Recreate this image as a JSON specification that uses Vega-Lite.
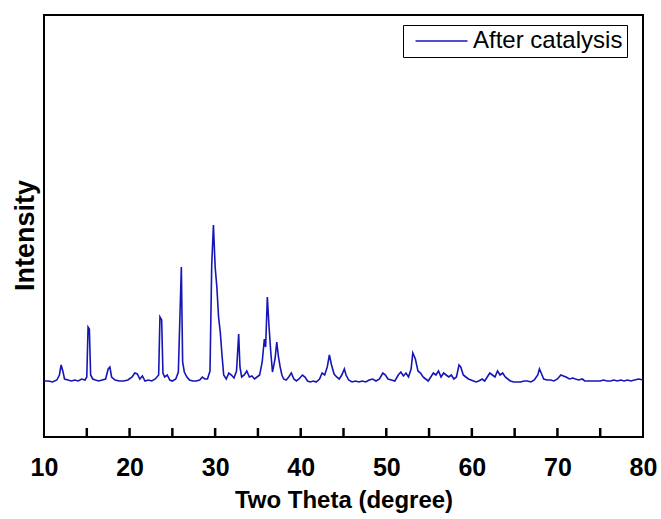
{
  "$schema": "https://vega.github.io/schema/vega-lite/v6.json",
  "width": 599,
  "height": 422,
  "autosize": {"type": "none"},
  "padding": {"left": 44, "top": 15, "right": 18, "bottom": 82},
  "background": "white",
  "config": {
    "view": {"stroke": "black", "strokeWidth": 2},
    "font": "Liberation Sans"
  },
  "layer": [
    {
      "data": {"values": [
        {"t":10.0,"i":56},{"t":10.5,"i":56},{"t":11.0,"i":55},{"t":11.5,"i":57},{"t":11.8,"i":62},{"t":12.0,"i":72},{"t":12.2,"i":66},{"t":12.4,"i":58},{"t":12.8,"i":57},{"t":13.2,"i":56},{"t":13.6,"i":57},{"t":14.0,"i":56},{"t":14.4,"i":58},{"t":14.8,"i":57},{"t":15.0,"i":60},{"t":15.15,"i":110},{"t":15.3,"i":108},{"t":15.45,"i":62},{"t":15.7,"i":58},{"t":16.0,"i":57},{"t":16.4,"i":56},{"t":16.8,"i":57},{"t":17.2,"i":58},{"t":17.5,"i":68},{"t":17.7,"i":70},{"t":17.9,"i":60},{"t":18.3,"i":57},{"t":18.8,"i":56},{"t":19.3,"i":56},{"t":19.8,"i":57},{"t":20.3,"i":60},{"t":20.6,"i":64},{"t":20.9,"i":63},{"t":21.2,"i":58},{"t":21.5,"i":61},{"t":21.8,"i":56},{"t":22.2,"i":57},{"t":22.6,"i":56},{"t":23.0,"i":58},{"t":23.4,"i":62},{"t":23.55,"i":120},{"t":23.75,"i":117},{"t":23.9,"i":64},{"t":24.1,"i":60},{"t":24.4,"i":62},{"t":24.7,"i":57},{"t":25.0,"i":56},{"t":25.4,"i":58},{"t":25.7,"i":65},{"t":25.9,"i":125},{"t":26.05,"i":170},{"t":26.2,"i":75},{"t":26.4,"i":65},{"t":26.7,"i":60},{"t":27.0,"i":57},{"t":27.4,"i":56},{"t":27.8,"i":56},{"t":28.2,"i":57},{"t":28.5,"i":60},{"t":28.8,"i":58},{"t":29.1,"i":58},{"t":29.4,"i":66},{"t":29.6,"i":172},{"t":29.8,"i":212},{"t":30.0,"i":170},{"t":30.2,"i":150},{"t":30.4,"i":120},{"t":30.6,"i":105},{"t":30.8,"i":82},{"t":31.0,"i":62},{"t":31.3,"i":58},{"t":31.6,"i":64},{"t":31.9,"i":62},{"t":32.2,"i":59},{"t":32.5,"i":66},{"t":32.75,"i":103},{"t":32.9,"i":70},{"t":33.1,"i":60},{"t":33.4,"i":62},{"t":33.7,"i":66},{"t":34.0,"i":60},{"t":34.3,"i":61},{"t":34.6,"i":58},{"t":34.9,"i":60},{"t":35.2,"i":62},{"t":35.5,"i":75},{"t":35.75,"i":98},{"t":35.9,"i":90},{"t":36.1,"i":140},{"t":36.3,"i":110},{"t":36.5,"i":85},{"t":36.7,"i":65},{"t":37.0,"i":78},{"t":37.2,"i":95},{"t":37.4,"i":80},{"t":37.6,"i":70},{"t":37.8,"i":62},{"t":38.0,"i":58},{"t":38.3,"i":57},{"t":38.6,"i":60},{"t":38.9,"i":64},{"t":39.2,"i":58},{"t":39.5,"i":56},{"t":39.8,"i":58},{"t":40.2,"i":62},{"t":40.5,"i":60},{"t":40.8,"i":56},{"t":41.1,"i":55},{"t":41.5,"i":56},{"t":41.8,"i":55},{"t":42.2,"i":58},{"t":42.5,"i":64},{"t":42.8,"i":62},{"t":43.1,"i":70},{"t":43.35,"i":82},{"t":43.6,"i":72},{"t":43.9,"i":63},{"t":44.2,"i":60},{"t":44.5,"i":58},{"t":44.8,"i":62},{"t":45.1,"i":68},{"t":45.3,"i":62},{"t":45.6,"i":57},{"t":46.0,"i":55},{"t":46.4,"i":56},{"t":46.8,"i":55},{"t":47.2,"i":56},{"t":47.6,"i":55},{"t":48.0,"i":57},{"t":48.4,"i":58},{"t":48.8,"i":56},{"t":49.2,"i":58},{"t":49.6,"i":64},{"t":49.9,"i":62},{"t":50.2,"i":58},{"t":50.6,"i":57},{"t":51.0,"i":56},{"t":51.4,"i":62},{"t":51.7,"i":65},{"t":52.0,"i":61},{"t":52.3,"i":64},{"t":52.6,"i":60},{"t":52.9,"i":68},{"t":53.1,"i":84},{"t":53.4,"i":78},{"t":53.7,"i":66},{"t":54.0,"i":64},{"t":54.3,"i":60},{"t":54.6,"i":58},{"t":54.9,"i":56},{"t":55.2,"i":60},{"t":55.5,"i":64},{"t":55.8,"i":62},{"t":56.1,"i":66},{"t":56.4,"i":60},{"t":56.7,"i":64},{"t":57.0,"i":62},{"t":57.3,"i":60},{"t":57.6,"i":62},{"t":57.9,"i":58},{"t":58.2,"i":60},{"t":58.5,"i":72},{"t":58.7,"i":70},{"t":59.0,"i":62},{"t":59.3,"i":60},{"t":59.6,"i":58},{"t":59.9,"i":57},{"t":60.2,"i":56},{"t":60.5,"i":55},{"t":60.8,"i":56},{"t":61.2,"i":58},{"t":61.5,"i":56},{"t":61.8,"i":60},{"t":62.1,"i":64},{"t":62.4,"i":62},{"t":62.7,"i":60},{"t":63.0,"i":66},{"t":63.3,"i":62},{"t":63.6,"i":64},{"t":63.9,"i":60},{"t":64.2,"i":58},{"t":64.5,"i":56},{"t":64.9,"i":55},{"t":65.3,"i":55},{"t":65.7,"i":55},{"t":66.1,"i":56},{"t":66.5,"i":56},{"t":66.9,"i":55},{"t":67.3,"i":57},{"t":67.7,"i":62},{"t":67.9,"i":68},{"t":68.1,"i":64},{"t":68.4,"i":58},{"t":68.8,"i":57},{"t":69.2,"i":57},{"t":69.6,"i":56},{"t":70.0,"i":58},{"t":70.4,"i":62},{"t":70.7,"i":61},{"t":71.0,"i":60},{"t":71.4,"i":58},{"t":71.8,"i":59},{"t":72.1,"i":58},{"t":72.5,"i":57},{"t":72.9,"i":58},{"t":73.2,"i":56},{"t":73.6,"i":56},{"t":74.0,"i":56},{"t":74.5,"i":56},{"t":75.0,"i":56},{"t":75.4,"i":57},{"t":75.8,"i":56},{"t":76.2,"i":56},{"t":76.6,"i":57},{"t":77.0,"i":56},{"t":77.4,"i":57},{"t":77.8,"i":56},{"t":78.2,"i":57},{"t":78.6,"i":56},{"t":79.0,"i":57},{"t":79.5,"i":58},{"t":80.0,"i":57}
      ]},
      "mark": {"type": "line", "strokeWidth": 1.6, "interpolate": "linear"},
      "encoding": {
        "x": {
          "field": "t", "type": "quantitative",
          "scale": {"domain": [10, 80], "nice": false, "zero": false},
          "axis": {
            "title": "Two Theta (degree)",
            "titleFont": "Liberation Sans", "titleFontSize": 24, "titleFontWeight": "bold", "titleColor": "black", "titlePadding": 8,
            "values": [10,20,30,40,50,60,70,80],
            "labelFont": "Liberation Sans", "labelFontSize": 25, "labelFontWeight": "bold", "labelColor": "black",
            "labelPadding": 18, "labelFlush": false,
            "ticks": false, "tickSize": 0,
            "domain": false, "grid": false
          }
        },
        "y": {
          "field": "i", "type": "quantitative",
          "scale": {"domain": [0, 422], "nice": false},
          "axis": {
            "title": "Intensity", "titleY": 220,
            "titleFont": "Liberation Sans", "titleFontSize": 27, "titleFontWeight": "bold", "titleColor": "black", "titlePadding": 5,
            "labels": false, "ticks": false, "domain": false, "grid": false
          }
        },
        "color": {
          "datum": "After catalysis",
          "scale": {"range": ["#1616b6"]},
          "legend": {
            "title": null,
            "orient": "none", "legendX": 359, "legendY": 10,
            "symbolType": "M-0.4,0H5.6", "symbolSize": 300, "symbolStrokeWidth": 1.6,
            "labelFont": "Liberation Sans", "labelFontSize": 24, "labelColor": "black", "labelOffset": 42,
            "strokeColor": "black", "padding": 4, "fillColor": "white"
          }
        }
      }
    },
    {
      "data": {"values": [{"t":15},{"t":20},{"t":25},{"t":30},{"t":35},{"t":40},{"t":45},{"t":50},{"t":55},{"t":60},{"t":65},{"t":70},{"t":75}]},
      "mark": {"type": "rule", "color": "black", "strokeWidth": 2.5},
      "encoding": {
        "x": {"field": "t", "type": "quantitative"},
        "y": {"datum": 0},
        "y2": {"datum": 9}
      }
    }
  ]
}
